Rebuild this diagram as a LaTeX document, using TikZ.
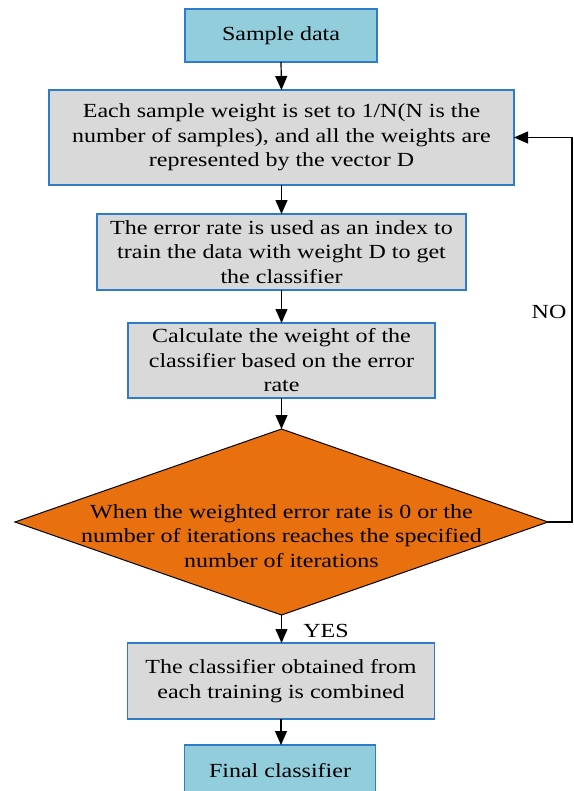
\documentclass[tikz,border=0pt]{standalone}
\usepackage{fontspec}
\setmainfont{Liberation Serif}[FakeStretch=1.2]
\usetikzlibrary{arrows.meta,shapes.geometric}

\definecolor{boxblue}{HTML}{92CDDC}
\definecolor{boxgray}{HTML}{D9D9D9}
\definecolor{edgeblue}{HTML}{2E7BC8}
\definecolor{decorange}{HTML}{E8700E}

\tikzset{
  basebox/.style={draw=edgeblue, line width=1.4bp, rectangle, inner sep=0pt,
    outer sep=0pt, align=center, font=\fontsize{20bp}{24.5bp}\selectfont},
  endbox/.style={basebox, fill=boxblue},
  procbox/.style={basebox, fill=boxgray},
  decision/.style={draw=black, line width=1bp, fill=decorange, shape=diamond,
    inner sep=0pt, outer sep=0pt},
  txt/.style={align=center, inner sep=0pt, font=\fontsize{20bp}{24.5bp}\selectfont},
  arr/.style={draw=black, line width=1.2bp, -{Triangle[length=14bp,width=12bp]}}
}

\begin{document}
\begin{tikzpicture}[x=1bp,y=-1bp]
  \useasboundingbox (0,0) rectangle (574,791);

  \node[endbox, minimum width=192bp, minimum height=53bp] (b1) at (281,35.5) {Sample data};
  \node[procbox, minimum width=465bp, minimum height=95bp] (b2) at (281.5,137.5)
    {Each sample weight is set to 1/N(N is the\\number of samples), and all the weights are\\represented by the vector D};
  \node[procbox, minimum width=369bp, minimum height=76bp] (b3) at (281.5,252)
    {The error rate is used as an index to\\train the data with weight D to get\\the classifier};
  \node[procbox, minimum width=307bp, minimum height=75bp] (b4) at (281.5,360.5)
    {Calculate the weight of the\\classifier based on the error\\rate};
  \node[decision, minimum width=533bp, minimum height=186bp] (dia) at (281.5,522) {};
  \node[txt] (diatxt) at (281.5,536)
    {When the weighted error rate is 0 or the\\number of iterations reaches the specified\\number of iterations};
  \node[procbox, minimum width=307bp, minimum height=76bp] (b5) at (281,681)
    {The classifier obtained from\\each training is combined};
  \node[endbox, minimum width=191bp, minimum height=52bp] (b6) at (280,771) {Final classifier};

  \draw[arr] (b1.south) -- (b2.north);
  \draw[arr] (b2.south) -- (b3.north);
  \draw[arr] (b3.south) -- (b4.north);
  \draw[arr] (b4.south) -- (dia.north);
  \draw[arr] (dia.south) -- (b5.north -| dia.south);
  \draw[arr] (b5.south) -- (b6.north -| b5.south);
  \draw[arr] (dia.east) -- ++(24,0) |- (b2.east);

  \node[txt] (yes) at (326,631) {YES};
  \node[txt] (no) at (549,312) {NO};
\end{tikzpicture}
\end{document}
